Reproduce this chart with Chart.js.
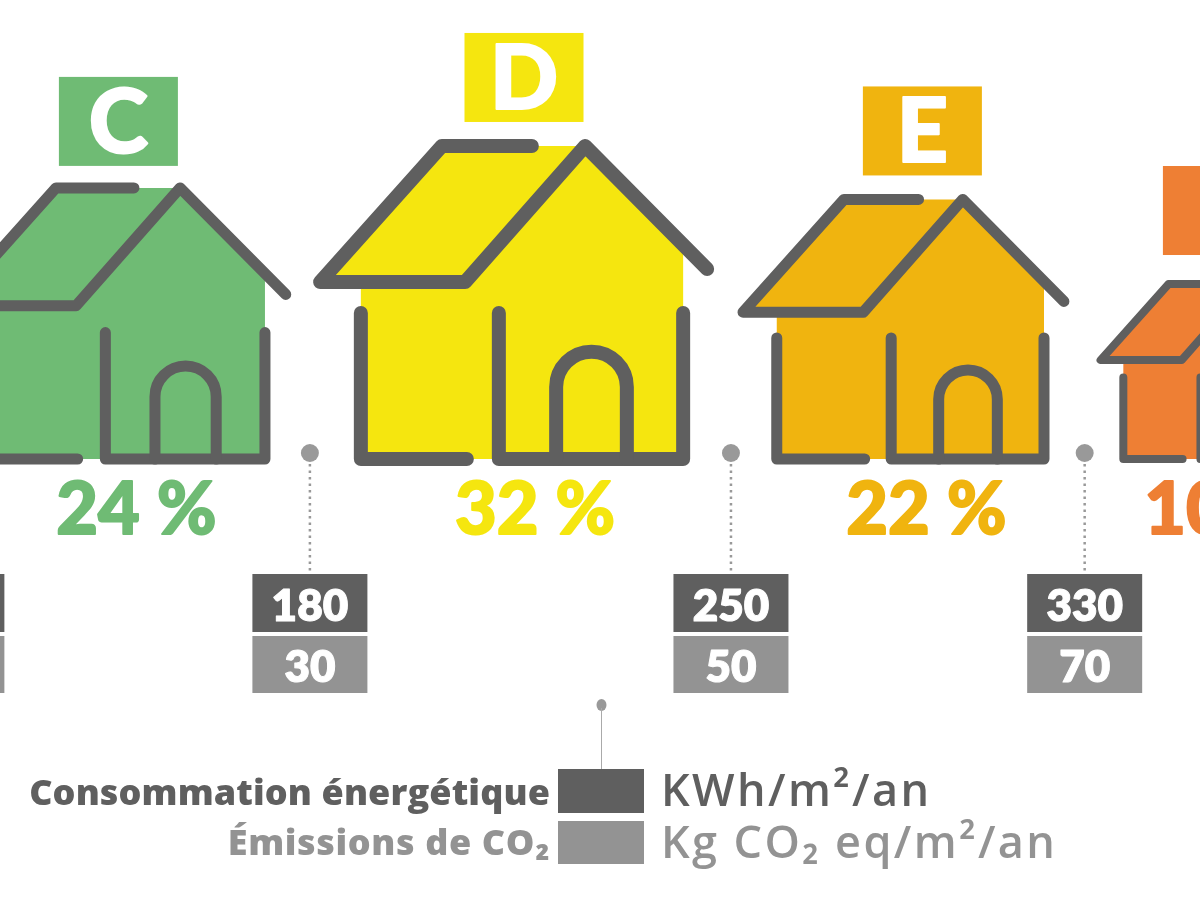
<!DOCTYPE html>
<html lang="fr"><head><meta charset="utf-8"><title>DPE</title>
<style>html,body{margin:0;padding:0;background:#fff}canvas{display:block}</style>
<script src="https://cdn.jsdelivr.net/npm/chart.js@4"></script></head>
<body><canvas id="c" width="1200" height="900"></canvas>
<script>
// Data
const classes = ['C', 'D', 'E', 'F'];
const shares = [24, 32, 22, 10];
const energyLimits = ['', '180', '250', '330'];
const co2Limits = ['', '30', '50', '70'];
const classColors = ['#6FBB74', '#F5E60F', '#F0B40F', '#EE7F34'];
const legendLabels = ['Consommation énergétique', 'Émissions de CO₂'];
const legendUnits = ['KWh/m²/an', 'Kg CO₂ eq/m²/an'];

// House area is proportional to the share, so heights follow a square-root scale
class AreaScale extends Chart.LinearScale {
  static id = 'area';
  static defaults = Chart.LinearScale.defaults;
  getPixelForValue(v) {
    return this.getPixelForDecimal((Math.sqrt(v) - Math.sqrt(this.min)) / (Math.sqrt(this.max) - Math.sqrt(this.min)));
  }
}
Chart.register(AreaScale);

// Strip layout: each house takes sqrt(share) width units, plus a gap
const gaps = [1.68, 1.64, 1.39];
const firstCentre = 2.2, leftGap = 1.4;
const centres = [], limitsX = [];
shares.forEach((s, i) => {
  const w = Math.sqrt(s);
  if (i === 0) { centres.push(firstCentre); limitsX.push(firstCentre - w / 2 - leftGap / 2); }
  else {
    const pw = Math.sqrt(shares[i - 1]);
    limitsX.push(centres[i - 1] + pw / 2 + gaps[i - 1] / 2);
    centres.push(centres[i - 1] + pw / 2 + gaps[i - 1] + w / 2);
  }
});

const DARK = '#5F5F5F', MID = '#939393';
const FONT = 'Lato, "Noto Sans", sans-serif';
const tileShift = [-7, 2, 12, 9], pctShift = [11, 13, 16, 11];
const tileGap = [22, 24, 24, 29], limitShift = [1, -3, 1, 1];
const strokeW = [11, 14, 11, 8];

function house(ctx, cx, base, k, color, sw) {
  ctx.save();
  ctx.translate(cx, base); ctx.scale(k, k);
  ctx.fillStyle = color; ctx.beginPath();
  [[-201.85,-177],[-80.15,-313],[63.15,-313],[161.15,-214],[161.15,0],[-161.15,0],[-161.15,-177]]
    .forEach((p, i) => i ? ctx.lineTo(p[0], p[1]) : ctx.moveTo(p[0], p[1]));
  ctx.closePath(); ctx.fill();
  ctx.strokeStyle = DARK; ctx.lineWidth = sw / k; ctx.lineCap = 'round'; ctx.lineJoin = 'round';
  const path = pts => { ctx.beginPath(); pts.forEach((p, i) => i ? ctx.lineTo(p[0], p[1]) : ctx.moveTo(p[0], p[1])); ctx.stroke(); };
  path([[9.85,-313],[-80.15,-313],[-201.85,-177],[-56.85,-177],[63.15,-313],[185.15,-190]]);
  path([[-161.15,-146],[-161.15,0],[-55.15,0]]);
  path([[-23.15,-146],[-23.15,0],[161.15,0],[161.15,-146]]);
  ctx.beginPath(); ctx.moveTo(34.15,0); ctx.lineTo(34.15,-72); ctx.arc(69.5,-72,35.35,Math.PI,0); ctx.lineTo(104.85,0); ctx.stroke();
  ctx.restore();
}
function label(ctx, text, x, y, font, color, align, heavy, spacing) {
  ctx.font = font; ctx.fillStyle = color; ctx.textAlign = align || 'center'; ctx.textBaseline = 'alphabetic';
  ctx.letterSpacing = (spacing || 0) + 'px';
  if (heavy) { ctx.strokeStyle = color; ctx.lineWidth = heavy; ctx.lineJoin = 'round'; ctx.strokeText(text, x, y); }
  ctx.fillText(text, x, y);
  ctx.letterSpacing = '0px';
}

const housesPlugin = {
  id: 'houses',
  afterDatasetsDraw(chart) {
    const ctx = chart.ctx, meta = chart.getDatasetMeta(0), sx = chart.scales.x;
    const refH = meta.data[1].base - meta.data[1].y;
    meta.data.forEach((bar, i) => {
      const k = (bar.base - bar.y) / refH;
      house(ctx, bar.x, bar.base, k, classColors[i], strokeW[i]);
      const tx = bar.x + tileShift[i], tb = bar.y - tileGap[i];
      ctx.fillStyle = classColors[i]; ctx.fillRect(tx - 59.5, tb - 89, 119, 89);
      label(ctx, classes[i], tx, tb - 13, '900 90px ' + FONT, '#fff', 'center', 2);
      label(ctx, shares[i] + ' %', bar.x + pctShift[i], 534, '900 72px ' + FONT, classColors[i], 'center', 2);
    });
    limitsX.forEach((v, i) => {
      const x = sx.getPixelForValue(v) + limitShift[i];
      ctx.fillStyle = '#999'; ctx.beginPath(); ctx.arc(x, 453, 9, 0, 2 * Math.PI); ctx.fill();
      ctx.strokeStyle = '#999'; ctx.lineWidth = 2.5; ctx.setLineDash([2.5, 4]);
      ctx.beginPath(); ctx.moveTo(x, 464); ctx.lineTo(x, 574); ctx.stroke(); ctx.setLineDash([]);
      ctx.fillStyle = DARK; ctx.fillRect(x - 57.5, 574, 115, 58);
      ctx.fillStyle = MID; ctx.fillRect(x - 57.5, 636, 115, 57);
      label(ctx, energyLimits[i], x, 621, '800 44px ' + FONT, '#fff', 'center', 1);
      label(ctx, co2Limits[i], x, 682, '800 44px ' + FONT, '#fff', 'center', 1);
    });
    // legend block
    ctx.fillStyle = '#999'; ctx.beginPath(); ctx.ellipse(601.5, 705, 5, 6, 0, 0, 2 * Math.PI); ctx.fill();
    ctx.strokeStyle = '#AAA'; ctx.lineWidth = 1; ctx.beginPath(); ctx.moveTo(601.5, 708); ctx.lineTo(601.5, 769); ctx.stroke();
    ctx.fillStyle = DARK; ctx.fillRect(558, 769, 86, 44);
    ctx.fillStyle = MID; ctx.fillRect(558, 821, 86, 43);
    const LF = '"Open Sans", "Noto Sans", sans-serif';
    label(ctx, legendLabels[0], 550, 805, '800 36px ' + LF, DARK, 'right', 0, 0.1);
    label(ctx, legendLabels[1], 550, 855, '800 36px ' + LF, MID, 'right', 0, 0.6);
    label(ctx, legendUnits[0], 661, 806, '600 45px ' + LF, DARK, 'left', 0, 2.4);
    label(ctx, legendUnits[1], 661, 858, '600 45px ' + LF, MID, 'left', 0, 2.4);
  }
};

new Chart(document.getElementById('c'), {
  type: 'bar',
  data: {
    labels: classes,
    datasets: [{ data: shares.map((s, i) => ({ x: centres[i], y: s })), backgroundColor: 'rgba(0,0,0,0)', barThickness: 1 }]
  },
  options: {
    responsive: false, animation: false, devicePixelRatio: 1,
    layout: { padding: { left: 0, right: 0, top: 0, bottom: 441 } },
    plugins: { legend: { display: false }, tooltip: { enabled: false } },
    scales: {
      x: { type: 'linear', offset: false, min: 0, max: 1200 / 57, display: false },
      y: { type: 'area', min: 0, max: 68.8, display: false }
    }
  },
  plugins: [housesPlugin]
});
</script></body></html>
